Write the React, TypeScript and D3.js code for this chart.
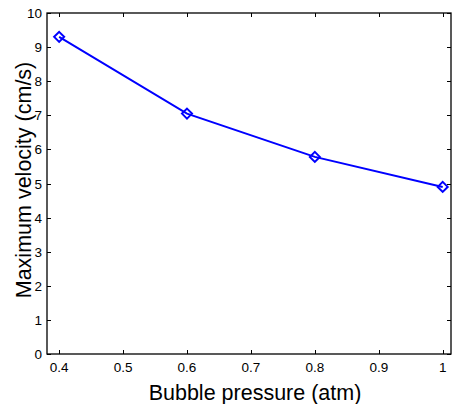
import React, { useEffect, useRef } from 'react';
import * as d3 from 'd3';

const pressures = [0.4, 0.6, 0.8, 1.0];
const velocities = [9.3, 7.05, 5.78, 4.9];
const xTicks = [0.4, 0.5, 0.6, 0.7, 0.8, 0.9, 1];
const yTicks = [0, 1, 2, 3, 4, 5, 6, 7, 8, 9, 10];

const App = () => {
  const svgRef = useRef<SVGSVGElement>(null);

  useEffect(() => {
    const svg = d3.select(svgRef.current);
    svg.selectAll('*').remove();

    const left = 47, right = 451, top = 13, bottom = 354;
    const font = 'Liberation Sans, Arial, sans-serif';

    const x = d3.scaleLinear().domain([0.381, 1.013]).range([left, right]);
    const y = d3.scaleLinear().domain([0, 10]).range([bottom, top]);

    // frame
    svg.append('rect')
      .attr('x', left).attr('y', top)
      .attr('width', right - left).attr('height', bottom - top)
      .attr('fill', 'white').attr('stroke', 'black').attr('stroke-width', 1.3);

    const tl = 4;
    // x ticks (bottom + top, inward)
    xTicks.forEach(t => {
      const px = Math.round(x(t)) + 0.5;
      svg.append('line').attr('x1', px).attr('x2', px).attr('y1', bottom).attr('y2', bottom - tl).attr('stroke', 'black');
      svg.append('line').attr('x1', px).attr('x2', px).attr('y1', top).attr('y2', top + tl).attr('stroke', 'black');
      svg.append('text')
        .attr('x', x(t)).attr('y', bottom + 18)
        .attr('text-anchor', 'middle')
        .style('font-family', font).style('font-size', '13.5px')
        .text(t === 1 ? '1' : d3.format('.1f')(t));
    });

    // y ticks (left + right, inward)
    yTicks.forEach(t => {
      const py = Math.round(y(t)) + 0.5;
      svg.append('line').attr('x1', left).attr('x2', left + tl).attr('y1', py).attr('y2', py).attr('stroke', 'black');
      svg.append('line').attr('x1', right).attr('x2', right - tl).attr('y1', py).attr('y2', py).attr('stroke', 'black');
      svg.append('text')
        .attr('x', left - 5).attr('y', y(t) + 5)
        .attr('text-anchor', 'end')
        .style('font-family', font).style('font-size', '13.5px')
        .text(t);
    });

    const data = pressures.map((p, i) => ({ p, v: velocities[i] }));

    svg.append('path')
      .datum(data)
      .attr('fill', 'none')
      .attr('stroke', '#0000ff')
      .attr('stroke-width', 2)
      .attr('d', d3.line<{ p: number; v: number }>()
        .x(d => x(d.p))
        .y(d => y(d.v)));

    svg.selectAll('.marker')
      .data(data)
      .enter().append('path')
      .attr('class', 'marker')
      .attr('transform', d => `translate(${x(d.p)},${y(d.v)})`)
      .attr('d', 'M0,-5L5,0L0,5L-5,0Z')
      .attr('fill', 'none')
      .attr('stroke', '#0000ff')
      .attr('stroke-width', 2);

    // axis labels
    svg.append('text')
      .attr('x', 255).attr('y', 400)
      .attr('text-anchor', 'middle')
      .style('font-family', font).style('font-size', '21.5px')
      .text('Bubble pressure (atm)');

    svg.append('text')
      .attr('transform', `translate(31,180) rotate(-90)`)
      .attr('text-anchor', 'middle')
      .style('font-family', font).style('font-size', '21.5px')
      .text('Maximum velocity (cm/s)');
  }, []);

  return (
    <svg ref={svgRef} width={454} height={404}
      style={{ position: 'absolute', left: 0, top: 0, background: 'white' }} />
  );
};

export default App;
